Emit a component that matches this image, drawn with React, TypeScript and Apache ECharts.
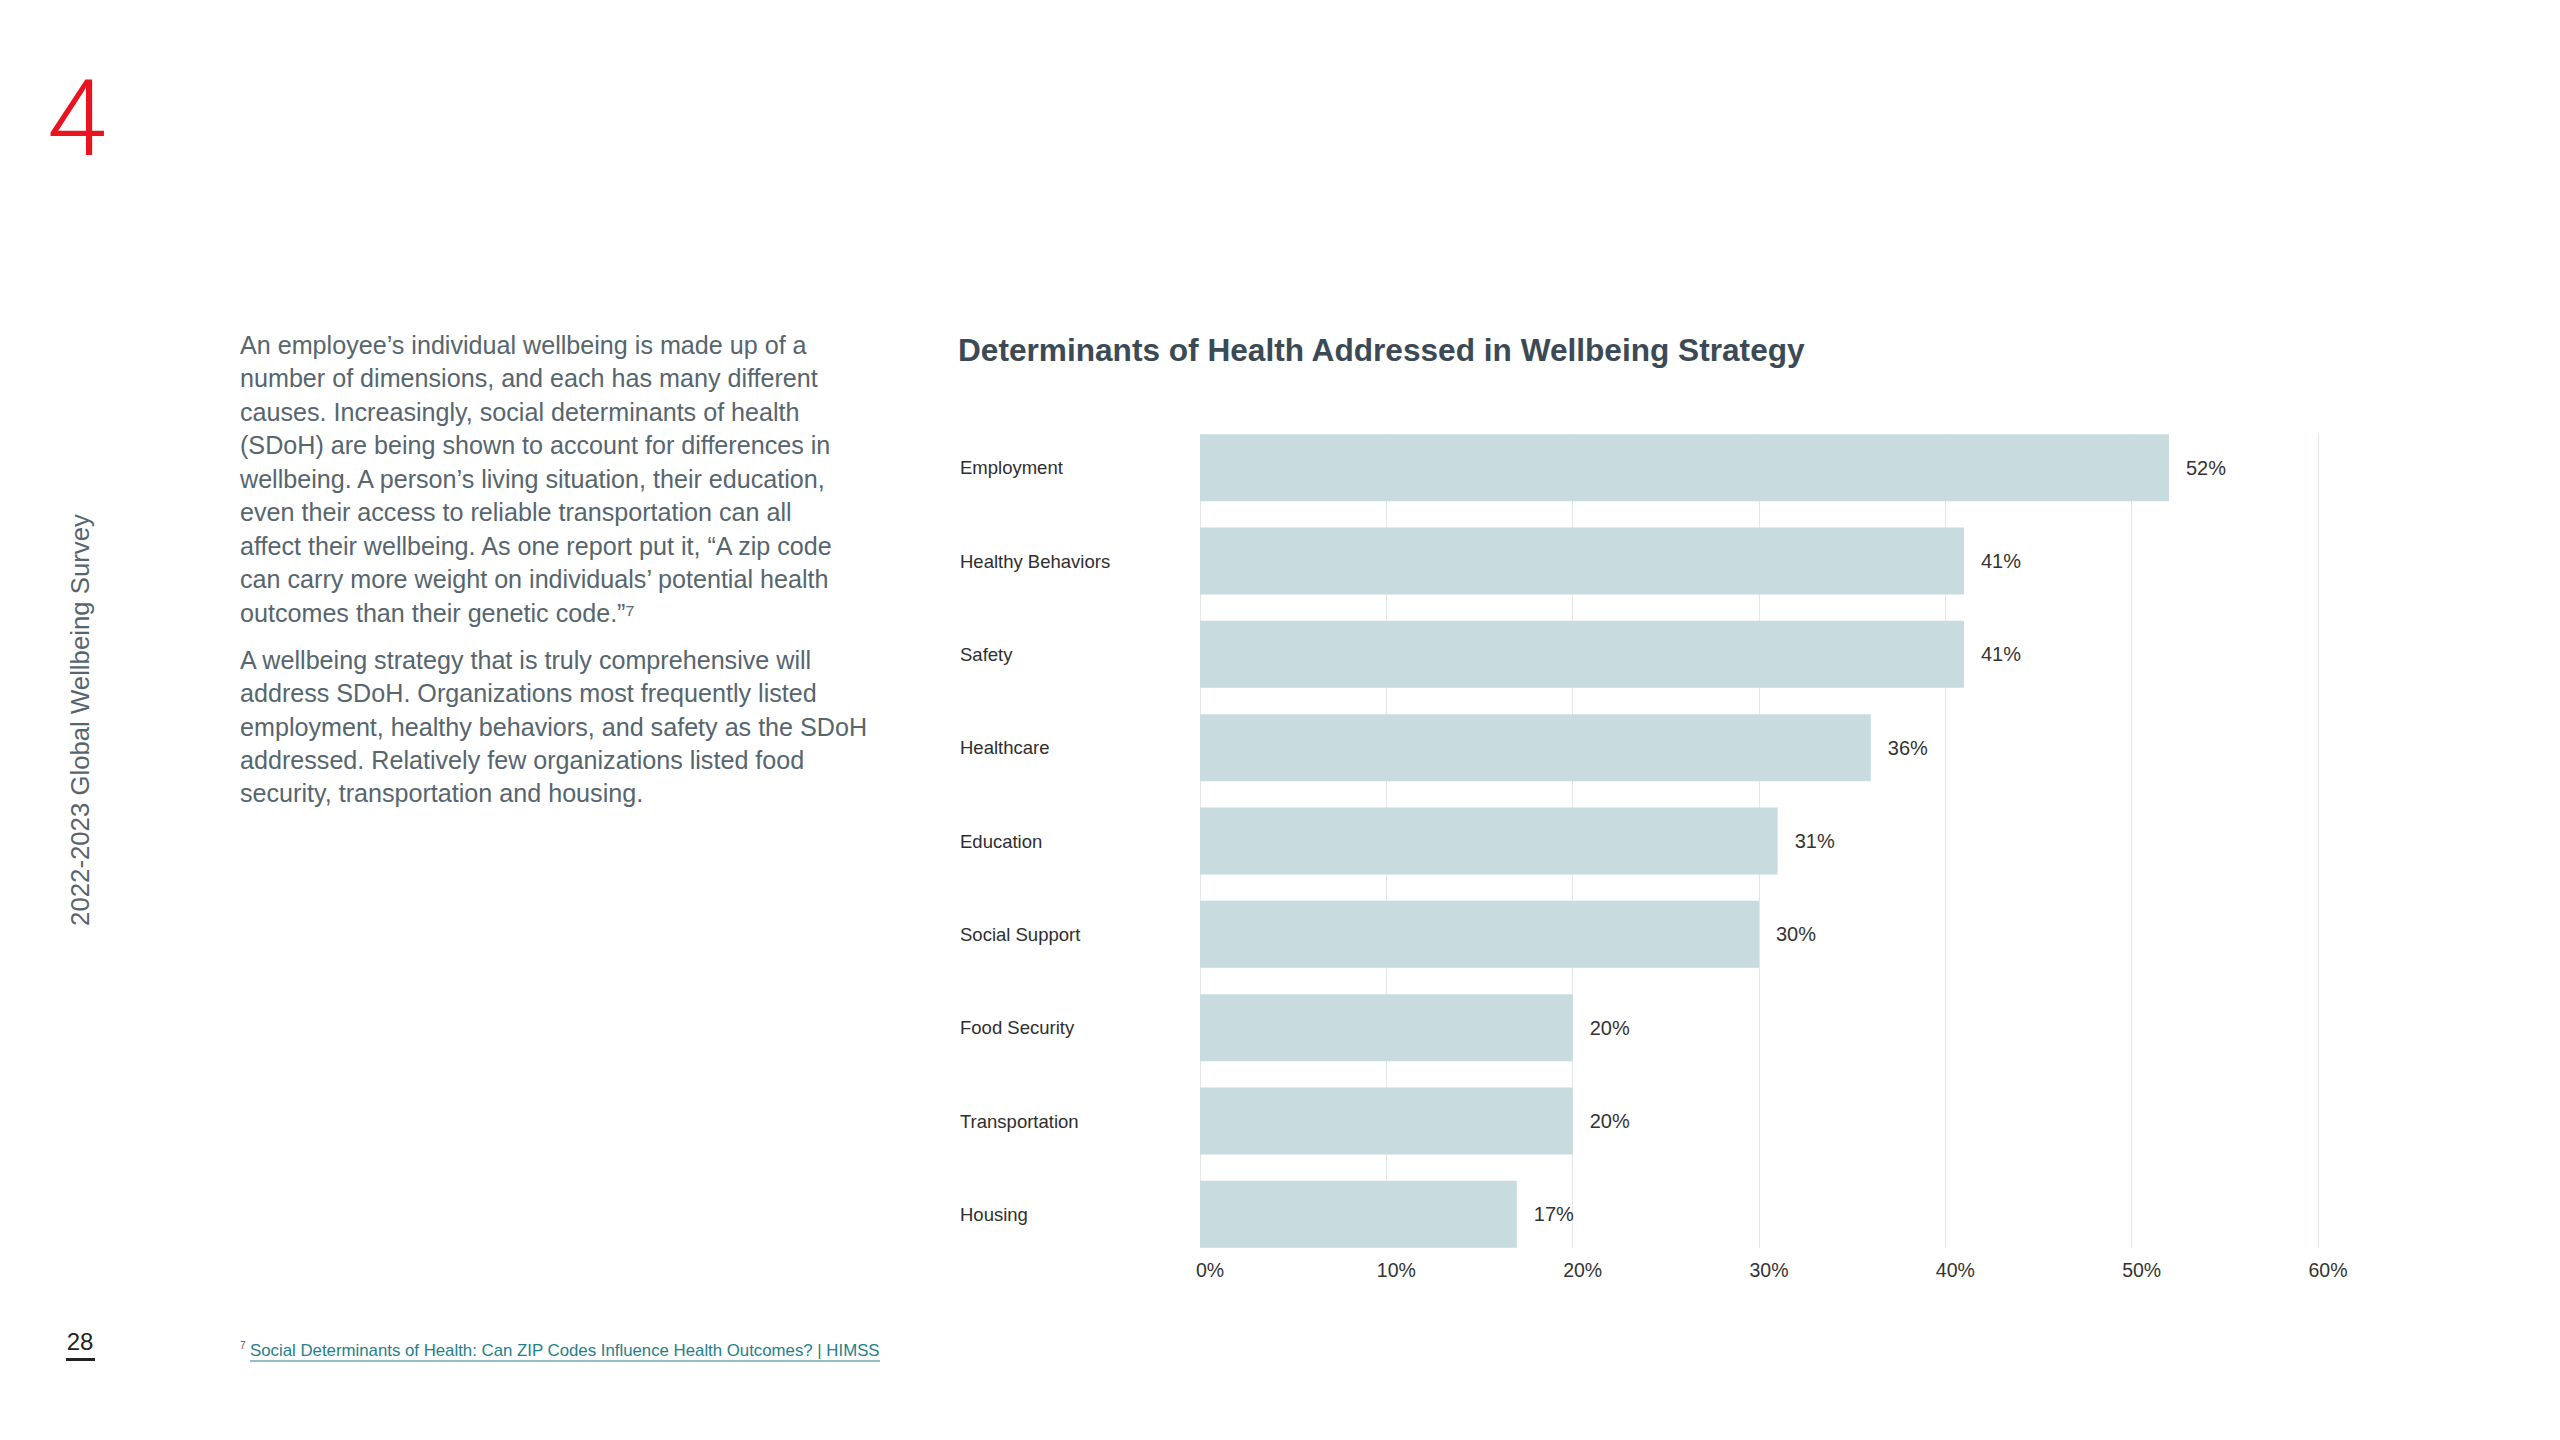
import React, { useEffect, useRef } from "react";
import * as echarts from "echarts";

const categories = [
  "Employment",
  "Healthy Behaviors",
  "Safety",
  "Healthcare",
  "Education",
  "Social Support",
  "Food Security",
  "Transportation",
  "Housing",
];
const values = [52, 41, 41, 36, 31, 30, 20, 20, 17];
const axisMin = 0;
const axisMax = 60;
const axisStep = 10;

const chartTitle = "Determinants of Health Addressed in Wellbeing Strategy";
const paragraph1 = [
  "An employee’s individual wellbeing is made up of a",
  "number of dimensions, and each has many different",
  "causes. Increasingly, social determinants of health",
  "(SDoH) are being shown to account for differences in",
  "wellbeing. A person’s living situation, their education,",
  "even their access to reliable transportation can all",
  "affect their wellbeing. As one report put it, “A zip code",
  "can carry more weight on individuals’ potential health",
  "outcomes than their genetic code.”⁷",
];
const paragraph2 = [
  "A wellbeing strategy that is truly comprehensive will",
  "address SDoH. Organizations most frequently listed",
  "employment, healthy behaviors, and safety as the SDoH",
  "addressed. Relatively few organizations listed food",
  "security, transportation and housing.",
];
const sideText = "2022-2023 Global Wellbeing Survey";
const sectionNumber = "4";
const pageNumber = "28";
const footnoteMark = "7";
const footnoteText =
  "Social Determinants of Health: Can ZIP Codes Influence Health Outcomes? | HIMSS";

const FONT = '"Liberation Sans", Arial, Helvetica, sans-serif';

function fitSize(text: string, weight: string, target: number, fallback: number) {
  try {
    const c = document.createElement("canvas").getContext("2d");
    if (!c) return fallback;
    c.font = `${weight} 100px ${FONT}`;
    const w = c.measureText(text).width;
    if (!w) return fallback;
    return (100 * target) / w;
  } catch (e) {
    return fallback;
  }
}

export default function App() {
  const ref = useRef<HTMLDivElement>(null);

  useEffect(() => {
    document.body.style.margin = "0";
    if (!ref.current) return;
    const chart = echarts.init(ref.current, undefined, { renderer: "svg" });

    const titleSize = fitSize(chartTitle, "bold", 848, 30);
    const bodySize = fitSize(paragraph1[0], "normal", 567, 24.5);
    const sideSize = fitSize(sideText, "normal", 412, 25.5);
    const fnSize = fitSize(footnoteText, "normal", 630, 16.5);
    const fnWidth = 630;

    const textColor = "#56656e";

    chart.setOption({
      animation: false,
      backgroundColor: "#ffffff",
      grid: [
        { left: 1200, right: 242, top: 434, height: 814 },
        { left: 1200, right: 242, top: 421, height: 840 },
      ],
      xAxis: [
        {
          type: "value",
          gridIndex: 0,
          min: axisMin,
          max: axisMax,
          interval: axisStep,
          axisLine: { show: false },
          axisTick: { show: false },
          splitLine: { show: true, lineStyle: { color: "#e2e8ea", width: 1 } },
          axisLabel: {
            formatter: "{value}%",
            fontFamily: FONT,
            fontSize: 19.5,
            color: "#333333",
            margin: 12,
            padding: [0, 0, 0, 20],
          },
        },
        {
          type: "value",
          gridIndex: 1,
          min: axisMin,
          max: axisMax,
          interval: axisStep,
          show: false,
          splitLine: { show: false },
        },
      ],
      yAxis: [
        {
          type: "category",
          gridIndex: 0,
          data: categories,
          inverse: true,
          show: false,
        },
        {
          type: "category",
          gridIndex: 1,
          data: categories,
          inverse: true,
          axisLine: { show: false },
          axisTick: { show: false },
          splitLine: { show: false },
          axisLabel: {
            align: "left",
            margin: 240,
            fontFamily: FONT,
            fontSize: 18.5,
            color: "#2e2e2e",
          },
        },
      ],
      series: [
        {
          type: "bar",
          xAxisIndex: 1,
          yAxisIndex: 1,
          data: values,
          barWidth: 67,
          itemStyle: { color: "#c8dbdf" },
          label: {
            show: true,
            position: "right",
            distance: 17,
            formatter: "{c}%",
            fontFamily: FONT,
            fontSize: 20,
            color: "#333333",
          },
        },
      ],
      graphic: [
        {
          type: "text",
          x: 47,
          y: 119,
          style: {
            text: sectionNumber,
            font: `300 106px Roboto, ${FONT}`,
            fill: "#e8141f",
            verticalAlign: "middle",
            align: "left",
          },
        },
        {
          type: "text",
          x: 958,
          y: 350,
          style: {
            text: chartTitle,
            font: `bold ${titleSize}px ${FONT}`,
            fill: "#3b4a54",
            verticalAlign: "middle",
            align: "left",
          },
        },
        {
          type: "text",
          x: 240,
          y: 327.75,
          style: {
            text: paragraph1.join("\n"),
            font: `${bodySize}px ${FONT}`,
            lineHeight: 33.5,
            fill: textColor,
            verticalAlign: "top",
            align: "left",
          },
        },
        {
          type: "text",
          x: 240,
          y: 643,
          style: {
            text: paragraph2.join("\n"),
            font: `${bodySize}px ${FONT}`,
            lineHeight: 33.4,
            fill: textColor,
            verticalAlign: "top",
            align: "left",
          },
        },
        {
          type: "text",
          x: 80,
          y: 720,
          rotation: Math.PI / 2,
          style: {
            text: sideText,
            font: `${sideSize}px ${FONT}`,
            fill: "#55656f",
            verticalAlign: "middle",
            align: "center",
          },
        },
        {
          type: "text",
          x: 80,
          y: 1341,
          style: {
            text: pageNumber,
            font: `24px ${FONT}`,
            fill: "#222222",
            verticalAlign: "middle",
            align: "center",
          },
        },
        {
          type: "rect",
          shape: { x: 66, y: 1358, width: 29, height: 3 },
          style: { fill: "#222222" },
        },
        {
          type: "text",
          x: 240,
          y: 1345,
          style: {
            text: footnoteMark,
            font: `10px ${FONT}`,
            fill: "#555555",
            verticalAlign: "middle",
            align: "left",
          },
        },
        {
          type: "text",
          x: 250,
          y: 1350,
          style: {
            text: footnoteText,
            font: `${fnSize}px ${FONT}`,
            fill: "#23808a",
            verticalAlign: "middle",
            align: "left",
          },
        },
        {
          type: "line",
          shape: { x1: 250, y1: 1361, x2: 250 + fnWidth, y2: 1361 },
          style: { stroke: "#23808a", lineWidth: 1 },
        },
      ],
    });

    return () => chart.dispose();
  }, []);

  return (
    <div
      ref={ref}
      style={{ position: "absolute", left: 0, top: 0, width: 2560, height: 1440 }}
    />
  );
}
